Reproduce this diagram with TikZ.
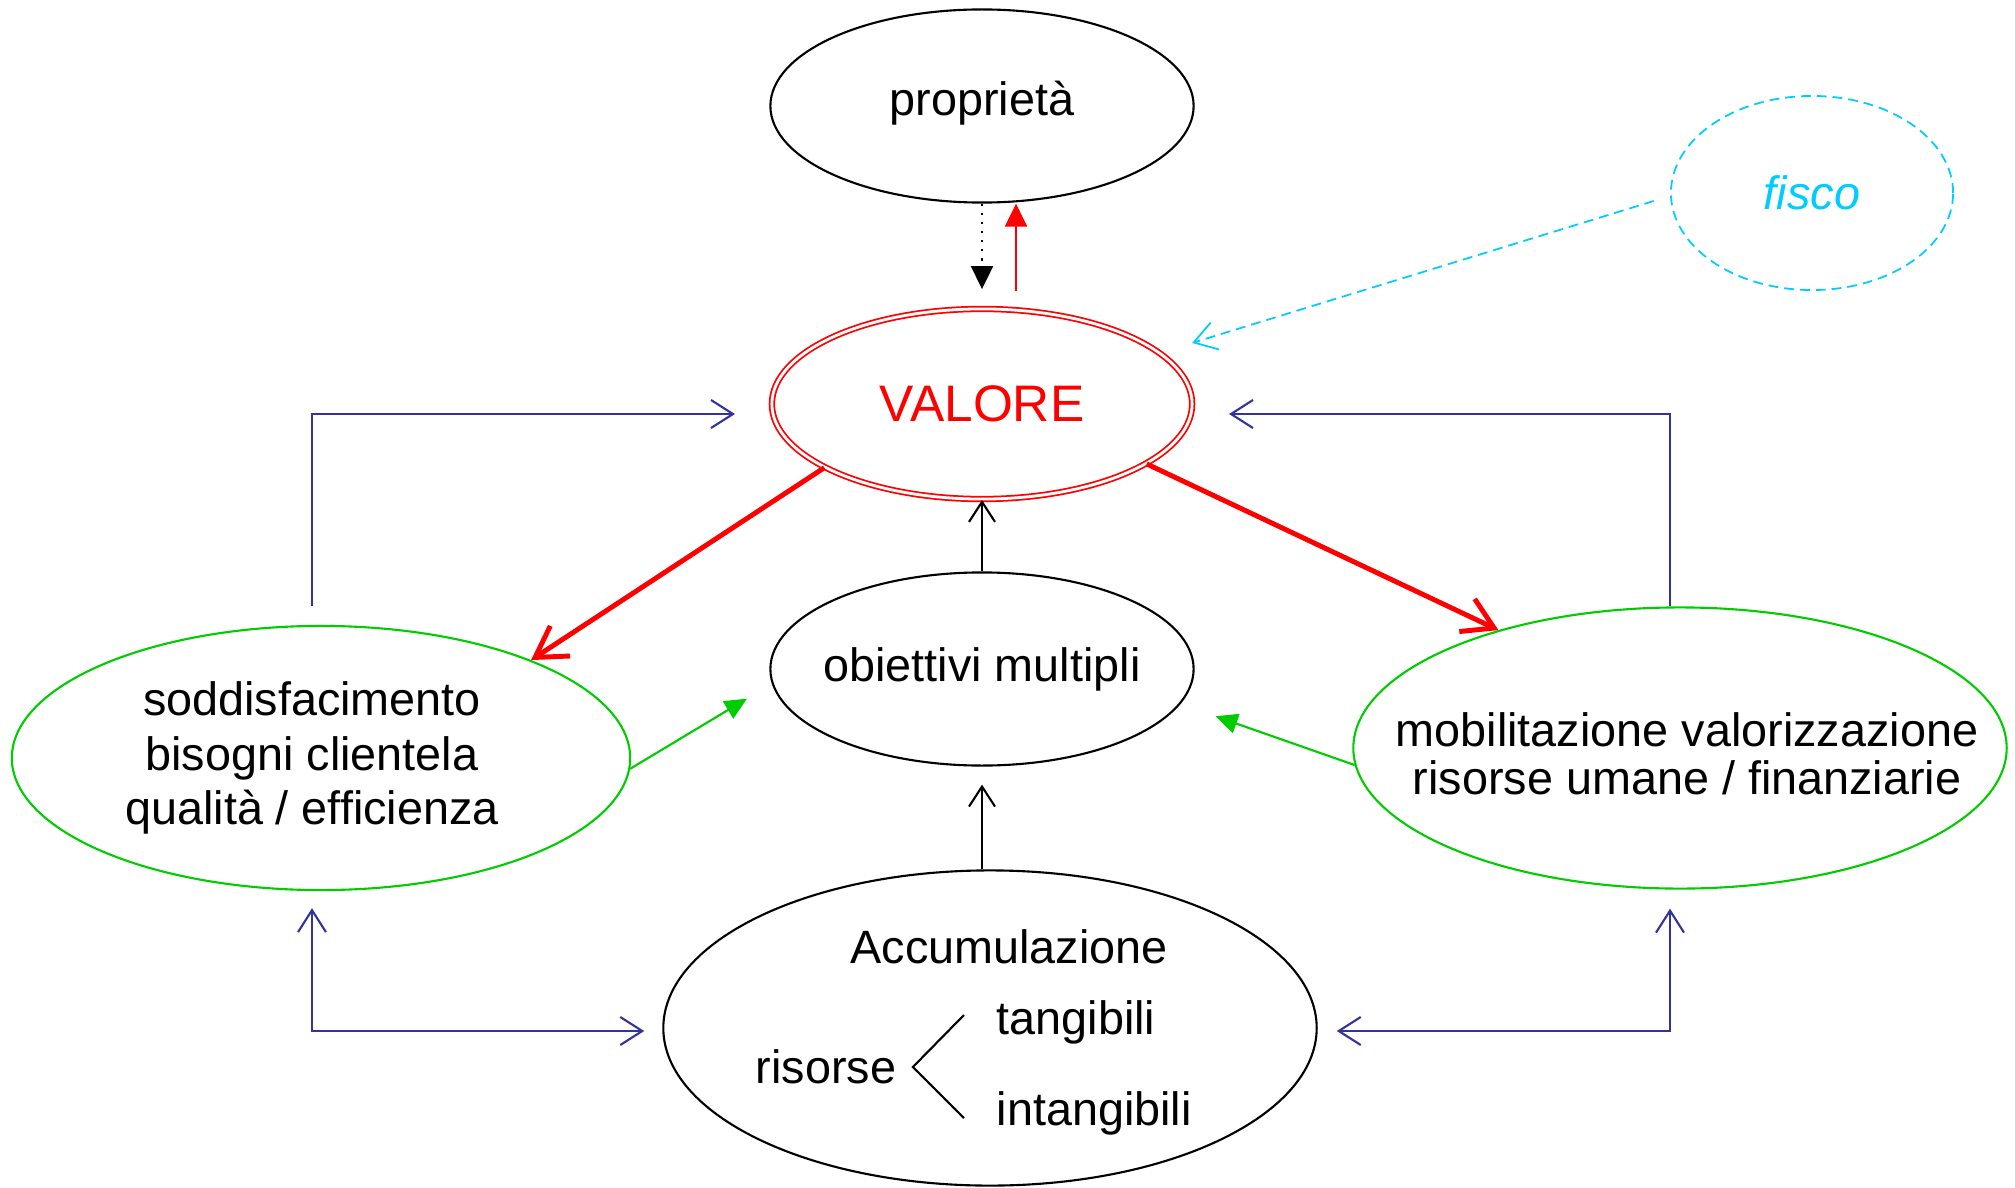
\documentclass[tikz,border=0pt]{standalone}
\usepackage{fontspec}
\setmainfont{Liberation Sans}
\usetikzlibrary{shapes.geometric,arrows.meta}
\definecolor{navyline}{RGB}{51,51,153}
\definecolor{greenline}{RGB}{0,204,0}
\definecolor{fiscoblue}{RGB}{0,204,255}
\tikzstyle{red state}=[
        draw = red,
        double = white,
        double distance = 0.8pt,
        line width = 0.5pt,
        ellipse,
        inner sep = 0pt,
        minimum width = 4.2cm,
        minimum height = 1.9cm
    ]
\tikzstyle{green state}=[
    draw = greenline,
    line width = 0.6pt,
    ellipse,
    inner sep = 0pt
]
\tikzstyle{fisco state}=[
    draw = fiscoblue,
    line width = 0.5pt,
    dash pattern = on 2.8pt off 1.7pt,
    ellipse,
    inner sep = 0pt,
    minimum width = 2.82cm,
    minimum height = 1.94cm
]
\tikzstyle{blue arrow}=[draw = navyline, line width = 0.6pt]
\tikzstyle{green arrow}=[draw = greenline, line width = 0.6pt,
    -{Triangle[length=2.2mm,width=2mm,fill=greenline]}]
\tikzstyle{red arrow}=[draw = red, line width = 1.4pt,
    -{Straight Barb[length=3mm,width=3.6mm]}]

\begin{document}
\begin{tikzpicture}[x=0.01cm, y=-0.01cm, font=\fontsize{13.3}{15.4}\selectfont,
    main/.style = {draw, ellipse, line width=0.6pt, inner sep=0pt,
        minimum width=4.23cm, minimum height=1.93cm}]
    \useasboundingbox (0,0) rectangle (2015,1188);

    \node[main, label={[yshift=0.03cm]center:proprietà}] (prop) at (982,106) {};
    \node[red state, label={[text=red, font=\fontsize{14.6}{16}\selectfont]center:VALORE}] (val) at (982,404) {};
    \node[fisco state, label={[text=fiscoblue, font=\fontsize{13.3}{15.4}\selectfont\itshape]center:fisco}] (fisco) at (1812,193) {};
    \node[main, label=center:obiettivi multipli] (obj) at (982,669) {};
    \node[green state, minimum width=6.18cm, minimum height=2.64cm,
        label={[align=center, xshift=-0.09cm]center:soddisfacimento\\bisogni clientela\\qualità / efficienza}] (sodd) at (321,758) {};
    \node[green state, minimum width=6.53cm, minimum height=2.81cm,
        label={[align=center, font=\fontsize{13.3}{13.8}\selectfont, xshift=0.07cm, yshift=-0.06cm]center:mobilitazione valorizzazione\\risorse umane / finanziarie}] (mob) at (1680,748) {};
    \node[main, minimum width=6.53cm, minimum height=3.15cm] (acc) at (990,1028) {};

    % inside Accumulazione
    \node (accum) at (1009,947) {Accumulazione};
    \node[inner sep=0pt] (ris) at (826,1067) {risorse};
    \node[inner sep=0pt, anchor=west] (tang) at (996,1022) {tangibili};
    \node[inner sep=0pt, anchor=west] (intang) at (996,1113) {intangibili};
    \draw[line width=0.6pt] ([xshift=-0.32cm,yshift=0.07cm]tang.west) -- ([xshift=0.16cm]ris.east)
        -- ([xshift=-0.32cm,yshift=-0.05cm]intang.west);

    % proprieta / valore
    \draw[dotted, line width=0.6pt, -{Triangle[length=2.3mm,width=2.2mm]}, shorten >=0.19cm] (prop.south) -- (val.north);
    \draw[red, line width=0.6pt, -{Triangle[length=2.3mm,width=2.2mm]}, shorten <=0.17cm] ([xshift=0.34cm]val.north) -- ([xshift=0.34cm]prop.south);
    \draw[fiscoblue, line width=0.5pt, dash pattern=on 2.8pt off 1.7pt, -{Straight Barb[length=2.2mm,width=2.8mm]}, shorten <=0.17cm]
        ([yshift=-0.03cm]fisco.west) -- ([xshift=2.1cm,yshift=0.61cm]val.center);

    % loops
    \draw[blue arrow, -{Straight Barb[length=2.2mm,width=2.8mm]}, shorten <=0.19cm, shorten >=0.36cm]
        ([xshift=-0.09cm]sodd.north) |- ([yshift=-0.1cm]val.west);
    \draw[blue arrow, -{Straight Barb[length=2.2mm,width=2.8mm]}, shorten >=0.36cm]
        ([xshift=-0.1cm]mob.north) |- ([yshift=-0.1cm]val.east);
    \draw[blue arrow, {Straight Barb[length=2.2mm,width=2.8mm]}-{Straight Barb[length=2.2mm,width=2.8mm]}, shorten <=0.17cm, shorten >=0.18cm]
        ([xshift=-0.09cm]sodd.south) |- ([yshift=-0.03cm]acc.west);
    \draw[blue arrow, {Straight Barb[length=2.2mm,width=2.8mm]}-{Straight Barb[length=2.2mm,width=2.8mm]}, shorten <=0.19cm, shorten >=0.19cm]
        ([xshift=-0.1cm]mob.south) |- ([yshift=-0.03cm]acc.east);

    \draw[red arrow] (val.202) -- (sodd.25);
    \draw[red arrow] (val.340) -- (mob.147);
    \draw[green arrow, shorten >=0.29cm] (sodd.358) -- (obj.184);
    \draw[green arrow, shorten >=0.37cm] (mob.183) -- (obj.350);
    \draw[line width=0.6pt, -{Straight Barb[length=2mm,width=2.6mm]}] (obj.north) -- (val.south);
    \draw[line width=0.6pt, -{Straight Barb[length=2mm,width=2.6mm]}, shorten >=0.18cm] (obj.south |- acc.north) -- (obj.south);

\end{tikzpicture}
\end{document}
